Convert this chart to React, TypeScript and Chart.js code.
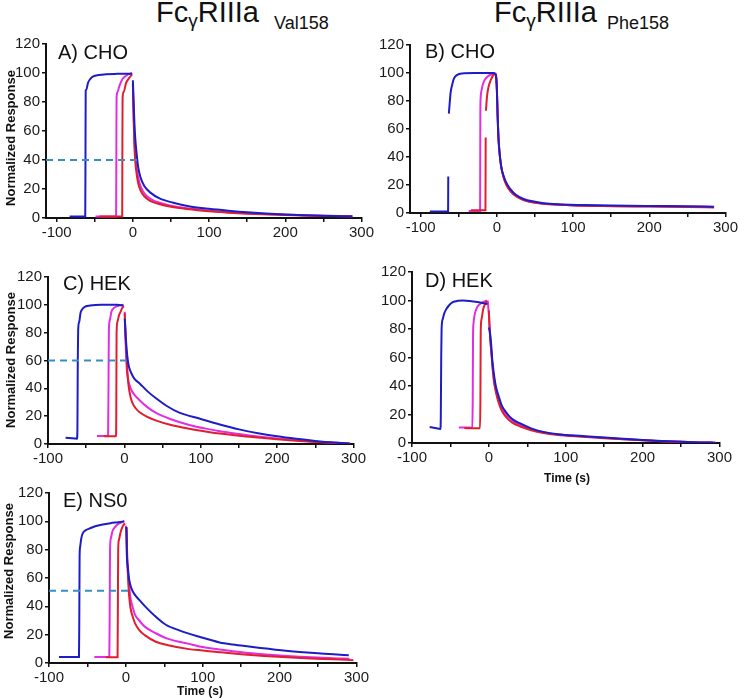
import React, { useEffect, useRef } from 'react';
import { Chart, registerables } from 'chart.js';

Chart.register(...registerables);

type P = [number, number | null];

// ---------- axis tick values ----------
const xTickValues = [-100, -50, 0, 50, 100, 150, 200, 250, 300];
const xLabelValues = [-100, 0, 100, 200, 300];
const yTickValues = [0, 20, 40, 60, 80, 100, 120];

// ---------- A) CHO, Val158 ----------
const aBlueOn: P[] = [[-83, 1], [-70, 1], [-62.5, 1], [-62.2, 40], [-61.9, 88], [-61, 88.5], [-59, 93], [-56, 95.8], [-52, 97.6], [-45, 98.6], [-35, 99.2], [-20, 99.4], [-1, 99.5]];
const aBlueOff: P[] = [[0, 95], [1, 80], [2, 66], [3, 56], [5, 44], [7, 35], [10, 28], [15, 22], [23, 17.5], [35, 13.5], [53, 10.5], [75, 8], [100, 6.3], [125, 5], [150, 3.9], [200, 2.4], [250, 1.5], [288, 1.1]];
const aMagOn: P[] = [[-49, 1], [-30, 1], [-22, 1], [-21.7, 40], [-21.4, 83], [-20, 87], [-17.8, 91], [-13.4, 96], [-8, 98.5], [-1, 100]];
const aMagOff: P[] = [[0, 93], [1, 72], [2, 56], [3, 45], [5, 34], [7, 28], [10, 22], [15, 17], [22, 13.5], [32, 11], [50, 8.5], [75, 6.5], [100, 5], [125, 3.9], [150, 3.2], [200, 2.2], [250, 1.6], [288, 1.3]];
const aRedOn: P[] = [[-44, 1], [-30, 1], [-14, 1], [-13.8, 40], [-13.5, 83], [-12, 87], [-9, 93], [-5, 96.5], [-1, 99]];
const aRedOff: P[] = [[0, 92], [1, 68], [2, 50], [3, 40], [5, 30], [7, 24], [10, 19], [15, 15], [22, 12], [32, 10], [50, 7.8], [75, 6], [100, 4.6], [125, 3.7], [150, 3], [200, 2], [250, 1.4], [288, 1]];
const aDashed: P[] = [[-114, 40], [8, 40]];

// ---------- B) CHO, Phe158 ----------
const bBlueOn: P[] = [[-88, 1], [-75, 1], [-64, 1], [-63.8, 26], [-63.4, null], [-63, 71], [-62, 78], [-60.7, 86], [-58.5, 92], [-56.4, 96], [-52, 98.7], [-45.6, 99.7], [-30, 100], [-4, 100], [-2, 99.5]];
const bBlueOff: P[] = [[-2, 99.5], [-1, 97], [0, 88], [1, 68], [2.2, 52], [4.3, 39], [6, 32], [8.6, 27], [12, 22], [17.5, 17.3], [25, 13], [35, 10], [50, 8], [61, 7], [80, 6.2], [113, 5.7], [150, 5.3], [200, 5], [250, 4.8], [285, 4.5]];
const bMagOn: P[] = [[-37, 1.5], [-30, 1.5], [-22, 1.5], [-21.7, 70], [-21.3, 82], [-20, 88], [-17, 94], [-12, 97.5], [-6, 99.3], [-3, 100]];
const bMagOff: P[] = [[-2, 100], [-0.5, 96], [0.5, 80], [1.5, 62], [2.5, 50], [4, 40], [6, 32], [8.6, 26], [12, 21], [17.5, 16], [25, 12.3], [35, 9.5], [50, 7.5], [70, 6.3], [100, 5.5], [150, 5], [200, 4.8], [250, 4.5], [285, 4.3]];
const bRedOn: P[] = [[-34, 2], [-25, 2], [-15, 2], [-14.7, 54], [-14.5, null], [-14.3, 73], [-13, 83], [-11, 90], [-8, 95], [-5, 98.3], [-3, 99.8]];
const bRedOff: P[] = [[-2.5, 100], [-1, 97], [0, 88], [1, 70], [2, 56], [3, 47], [4.5, 38], [6.5, 31], [9, 25], [13, 19.5], [18, 15.5], [25, 12], [35, 9.3], [50, 7.3], [70, 6.2], [100, 5.4], [150, 4.9], [200, 4.6], [250, 4.3], [285, 4]];

// ---------- C) HEK, Val158 ----------
const cBlueOn: P[] = [[-77, 4.5], [-65, 4], [-62, 3.8], [-61.5, 10], [-61, 60], [-60.5, 82], [-59, 88], [-57.5, 94], [-55, 97], [-51, 98.8], [-45, 99.5], [-30, 100], [-10, 100], [-1, 99.5]];
const cBlueOff: P[] = [[0.5, 90], [1.5, 80], [3, 68], [4.5, 60], [6, 55.5], [9, 51], [13, 47], [20, 43.5], [30, 38], [41, 33], [55, 27.5], [72, 22.5], [100, 18], [125, 14], [150, 10.5], [175, 7.8], [200, 5.5], [225, 3.7], [250, 2.2], [275, 1], [295, 0.3]];
const cMagOn: P[] = [[-36, 5.8], [-30, 5.8], [-22, 5.8], [-21.3, 6], [-20.8, 40], [-20.3, 82], [-19, 89], [-17, 95], [-13, 98], [-7, 99.5], [-1.3, 100]];
const cMagOff: P[] = [[0.5, 95], [1.5, 75], [3, 55], [5, 46], [7, 42], [9, 39], [13, 35.5], [19.6, 31.6], [30, 26.5], [41, 22.5], [60, 18], [85, 13.7], [110, 10.7], [125, 9.2], [150, 7.2], [175, 5.4], [200, 3.9], [225, 2.7], [250, 1.7], [275, 0.9], [295, 0.4]];
const cRedOn: P[] = [[-27, 5.5], [-20, 5.5], [-11, 5.5], [-10.6, 20], [-10.2, 80], [-9, 88], [-7, 92.5], [-5, 95], [-3, 97.5], [-0.8, 99]];
const cRedOff: P[] = [[0.4, 94], [1.5, 78], [3, 62], [4.5, 48], [5.7, 41], [8, 34], [11, 29], [15, 25.5], [19.6, 23], [30, 19.5], [41, 17], [60, 13.8], [85, 11], [110, 8.7], [125, 7.5], [150, 5.9], [175, 4.6], [200, 3.4], [225, 2.4], [250, 1.5], [275, 0.8], [295, 0.3]];
const cDashed: P[] = [[-100, 60], [3, 60]];

// ---------- D) HEK, Phe158 ----------
const dBlueOn: P[] = [[-77, 11.3], [-70, 10.5], [-63, 9.9], [-62.5, 20], [-62, 60], [-61.5, 80], [-60, 87], [-58, 91], [-55.8, 93.6], [-52, 96.5], [-47, 98.8], [-40, 99.8], [-34, 100], [-25, 99.7], [-15, 99], [-8, 98.3], [-4.3, 97.8], [-2, 97.5]];
const dBlueOff: P[] = [[0, 81], [1.3, 78], [3, 69], [4.5, 58], [6.4, 49], [9, 40], [12.9, 32.6], [17, 26], [23.6, 20.7], [30, 17], [40.8, 13.7], [55, 10.3], [70.8, 7.8], [90, 6.2], [122, 4.9], [150, 3.8], [175, 2.9], [200, 2.1], [225, 1.4], [250, 0.8], [275, 0.4], [295, 0.2]];
const dMagOn: P[] = [[-39, 10.8], [-25, 10.8], [-21.5, 10.5], [-21, 30], [-20.6, 75], [-20, 84], [-18.5, 90], [-16, 94.5], [-12, 97.3], [-7, 99], [-2.5, 100]];
const dMagOff: P[] = [[-1.5, 100], [0, 90], [1.3, 78], [3, 66], [4.5, 55], [6.4, 46], [9, 37.5], [12.9, 30.5], [17, 24.5], [23.6, 19.4], [30, 16], [40.8, 12.8], [55, 9.7], [70.8, 7.4], [90, 5.9], [122, 4.6], [150, 3.6], [175, 2.7], [200, 2], [225, 1.3], [250, 0.8], [275, 0.4], [295, 0.2]];
const dRedOn: P[] = [[-32, 10.5], [-20, 10.3], [-11.5, 10.3], [-11, 30], [-10.6, 78], [-9.5, 87], [-7.5, 93.7], [-5, 97.5], [-3.3, 99], [-2, 99.5]];
const dRedOff: P[] = [[0, 93], [1, 80], [2, 71], [3.8, 60], [5, 52], [6.4, 44], [9, 36], [12.9, 28], [17, 22.5], [23.6, 17.5], [30, 14.5], [40.8, 11.6], [55, 9], [70.8, 7], [90, 5.6], [122, 4.4], [150, 3.4], [175, 2.6], [200, 1.9], [225, 1.3], [250, 0.8], [275, 0.4], [292, 0.2]];

// ---------- E) NS0, Val158 ----------
const eBlueOn: P[] = [[-87, 4.3], [-70, 4.3], [-61, 4.3], [-60.6, 30], [-60.2, 75], [-59.5, 82], [-58, 88], [-56, 91.7], [-52, 93.8], [-47, 95], [-40, 96.5], [-30, 97.8], [-20, 98.7], [-10, 99.4], [-2, 100]];
const eBlueOff: P[] = [[0.5, 96], [0.8, 94], [1.2, 78], [2.5, 68], [4.4, 58.6], [7, 53], [10, 49.5], [17.4, 44.5], [25, 40], [39, 32.6], [52, 27], [69.5, 23], [95.6, 18.5], [122, 14.5], [139, 13], [160, 11.6], [182.5, 10.2], [205, 8.8], [226, 7.8], [250, 6.9], [270, 6.1], [290, 5.5]];
const eMagOn: P[] = [[-41, 4.3], [-30, 4.3], [-21.5, 4.3], [-21, 40], [-20.6, 80], [-19.5, 88], [-17.5, 93], [-14, 96], [-8.8, 98.5], [-2.2, 100]];
const eMagOff: P[] = [[0, 97], [0.6, 92], [1.5, 75], [2.7, 64], [4, 56], [6, 46], [8.7, 39.7], [12, 34], [17.4, 30], [25, 25.5], [39, 21], [55, 17], [82, 13.5], [100, 11.3], [122, 9.5], [139, 8.3], [160, 7], [182, 6], [205, 5.1], [226, 4.4], [250, 3.8], [270, 3.3], [291, 3]];
const eRedOn: P[] = [[-26, 4], [-15, 4], [-10.8, 4], [-10.4, 40], [-10, 80], [-9, 87], [-7, 92], [-5.2, 95], [-3, 97.5], [-1, 98.5]];
const eRedOff: P[] = [[0.8, 96], [1.5, 80], [2.5, 64], [4, 49], [6, 39], [8.7, 33], [12, 28], [17.4, 23.2], [25, 19.5], [39, 15], [55, 12.5], [82, 9.8], [100, 8.8], [122, 7.6], [150, 6.2], [180, 5], [210, 4], [240, 3.2], [270, 2.6], [296, 2]];
const eDashed: P[] = [[-100, 51], [3, 51]];

// ---------- styles ----------
const BLUE = '#1d1dc6';
const MAGENTA = '#e22ee2';
const RED = '#e01e2e';
const DASH = '#3a8dc4';
const AXIS = '#111111';
const TICK_FONT = "'Liberation Sans Narrow', 'Liberation Sans', Arial, sans-serif";
const SANS = "'Liberation Sans', Arial, sans-serif";

interface PanelCfg {
  l: number; r: number; t: number; b: number; xMin: number; rp: number;
  blue: P[][]; mag: P[][]; red: P[][]; dashed?: P[];
}

const panels: PanelCfg[] = [
  { l: 46, r: 362, t: 44, b: 218, xMin: -114, rp: 14, blue: [aBlueOn, aBlueOff], mag: [aMagOn, aMagOff], red: [aRedOn, aRedOff], dashed: aDashed },
  { l: 410, r: 730, t: 45, b: 213, xMin: -114, rp: 10, blue: [bBlueOn, bBlueOff], mag: [bMagOn, bMagOff], red: [bRedOn, bRedOff] },
  { l: 48, r: 354, t: 277, b: 444, xMin: -100, rp: 14, blue: [cBlueOn, cBlueOff], mag: [cMagOn, cMagOff], red: [cRedOn, cRedOff], dashed: cDashed },
  { l: 412, r: 720, t: 272, b: 443, xMin: -100, rp: 14, blue: [dBlueOn, dBlueOff], mag: [dMagOn, dMagOff], red: [dRedOn, dRedOff] },
  { l: 49, r: 357, t: 493, b: 663, xMin: -100, rp: 14, blue: [eBlueOn, eBlueOff], mag: [eMagOn, eMagOff], red: [eRedOn, eRedOff], dashed: eDashed },
];

const Y_AXIS_W = 46;
const X_AXIS_H = 30;
const TOP_PAD = 12;

function toXY(arr: P[]) {
  return arr.map(([x, y]) => ({ x, y }));
}

function lineDs(arr: P[], color: string) {
  return {
    data: toXY(arr),
    borderColor: color,
    borderWidth: 2,
    pointRadius: 0,
    fill: false,
    spanGaps: false,
    cubicInterpolationMode: 'monotone' as const,
  };
}

function Panel({ cfg }: { cfg: PanelCfg }) {
  const ref = useRef<HTMLCanvasElement>(null);
  const left = cfg.l - Y_AXIS_W;
  const top = cfg.t - TOP_PAD;
  const width = cfg.r - left + cfg.rp;
  const height = cfg.b - top + X_AXIS_H;

  useEffect(() => {
    if (!ref.current) return;
    const datasets: any[] = [];
    if (cfg.dashed) {
      datasets.push({ ...lineDs(cfg.dashed, DASH), borderWidth: 1.8, borderDash: [7, 5], cubicInterpolationMode: 'default' });
    }
    cfg.blue.forEach((s) => datasets.push(lineDs(s, BLUE)));
    cfg.red.forEach((s) => datasets.push(lineDs(s, RED)));
    cfg.mag.forEach((s) => datasets.push(lineDs(s, MAGENTA)));

    const tickFont = { family: TICK_FONT, size: 15 };
    const grid = { drawOnChartArea: false, drawTicks: true, tickLength: 4, color: AXIS, lineWidth: 1.5 };
    const border = { display: true, color: AXIS, width: 2 };

    const chart = new Chart(ref.current, {
      type: 'line',
      data: { datasets },
      options: {
        animation: false,
        responsive: false,
        devicePixelRatio: 1,
        events: [],
        layout: { padding: { top: TOP_PAD, right: cfg.rp, bottom: 0, left: 0 } },
        plugins: { legend: { display: false }, tooltip: { enabled: false }, title: { display: false } },
        scales: {
          x: {
            type: 'linear',
            min: cfg.xMin,
            max: 300,
            afterBuildTicks: (s: any) => {
              s.ticks = xTickValues.filter((v) => v >= cfg.xMin).map((v) => ({ value: v }));
            },
            afterFit: (s: any) => {
              s.height = X_AXIS_H;
            },
            ticks: {
              autoSkip: false,
              maxRotation: 0,
              padding: 2,
              color: '#1a1a1a',
              font: tickFont,
              callback: (v: any) => (xLabelValues.includes(Number(v)) ? String(v) : ''),
            },
            grid,
            border,
          },
          y: {
            type: 'linear',
            min: 0,
            max: 120,
            afterBuildTicks: (s: any) => {
              s.ticks = yTickValues.map((v) => ({ value: v }));
            },
            afterFit: (s: any) => {
              s.width = Y_AXIS_W;
            },
            ticks: { padding: 2, color: '#1a1a1a', font: tickFont },
            grid,
            border,
          },
        },
      } as any,
    });
    return () => chart.destroy();
  }, [cfg]);

  return (
    <canvas
      ref={ref}
      width={width}
      height={height}
      style={{ position: 'absolute', left, top, width, height, display: 'block' }}
    />
  );
}

function Title({ left, sub, subLeft }: { left: number; sub: string; subLeft: number }) {
  return (
    <>
      <div style={{ position: 'absolute', left, top: -2, fontFamily: SANS, fontSize: 29, lineHeight: '29px', whiteSpace: 'nowrap', color: '#111' }}>
        Fc<span style={{ fontSize: 19, verticalAlign: '-5px' }}>γ</span>RIIIa
      </div>
      <div style={{ position: 'absolute', left: subLeft, top: 14, fontFamily: SANS, fontSize: 18, lineHeight: '18px', whiteSpace: 'nowrap', color: '#111' }}>
        {sub}
      </div>
    </>
  );
}

function PanelLabel({ text, left, baseline }: { text: string; left: number; baseline: number }) {
  return (
    <div style={{ position: 'absolute', left, top: baseline - 17, fontFamily: SANS, fontSize: 20, lineHeight: '20px', whiteSpace: 'nowrap', color: '#111' }}>
      {text}
    </div>
  );
}

function RotLabel({ text, cx, cy }: { text: string; cx: number; cy: number }) {
  return (
    <div style={{ position: 'absolute', left: cx, top: cy, transform: 'translate(-50%, -50%) rotate(-90deg)', fontFamily: SANS, fontWeight: 'bold', fontSize: 13, lineHeight: '13px', whiteSpace: 'nowrap', color: '#111' }}>
      {text}
    </div>
  );
}

function XLabel({ text, cx, cy }: { text: string; cx: number; cy: number }) {
  return (
    <div style={{ position: 'absolute', left: cx, top: cy, transform: 'translate(-50%, -50%)', fontFamily: SANS, fontWeight: 'bold', fontSize: 12, lineHeight: '12px', whiteSpace: 'nowrap', color: '#111' }}>
      {text}
    </div>
  );
}

export default function App() {
  return (
    <div style={{ position: 'absolute', left: 0, top: 0, width: 740, height: 699, overflow: 'hidden', background: '#fff' }}>
      <Title left={156} sub="Val158" subLeft={274} />
      <Title left={494} sub="Phe158" subLeft={607} />
      {panels.map((p, i) => (
        <Panel key={i} cfg={p} />
      ))}
      <PanelLabel text="A) CHO" left={58} baseline={59} />
      <PanelLabel text="B) CHO" left={425} baseline={58} />
      <PanelLabel text="C) HEK" left={63} baseline={290} />
      <PanelLabel text="D) HEK" left={425} baseline={287} />
      <PanelLabel text="E) NS0" left={63} baseline={507} />
      <RotLabel text="Normalized Response" cx={10} cy={138} />
      <RotLabel text="Normalized Response" cx={10} cy={360} />
      <RotLabel text="Normalized Response" cx={8} cy={571} />
      <XLabel text="Time (s)" cx={567} cy={478} />
      <XLabel text="Time (s)" cx={200} cy={691} />
    </div>
  );
}
